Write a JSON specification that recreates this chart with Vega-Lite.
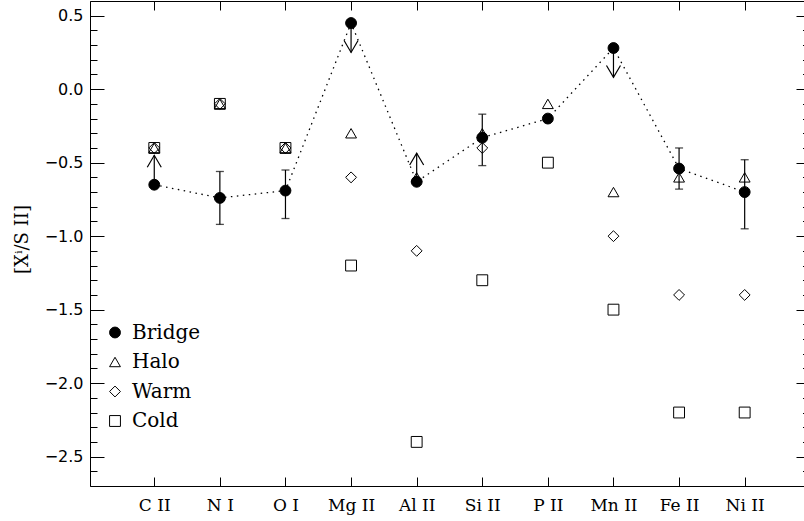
{
  "$schema": "https://vega.github.io/schema/vega-lite/v6.json",
  "width": 714,
  "height": 485,
  "autosize": {"type": "none"},
  "padding": {"left": 90, "top": 1, "right": 0, "bottom": 35},
  "background": "white",
  "datasets": {
    "pts": [
      {"el": "C II", "series": "Halo", "v": -0.4},
      {"el": "N I", "series": "Halo", "v": -0.1},
      {"el": "O I", "series": "Halo", "v": -0.4},
      {"el": "Mg II", "series": "Halo", "v": -0.3},
      {"el": "Al II", "series": "Halo", "v": -0.6},
      {"el": "Si II", "series": "Halo", "v": -0.3},
      {"el": "P II", "series": "Halo", "v": -0.1},
      {"el": "Mn II", "series": "Halo", "v": -0.7},
      {"el": "Fe II", "series": "Halo", "v": -0.6},
      {"el": "Ni II", "series": "Halo", "v": -0.6},
      {"el": "C II", "series": "Warm", "v": -0.4},
      {"el": "N I", "series": "Warm", "v": -0.1},
      {"el": "O I", "series": "Warm", "v": -0.4},
      {"el": "Mg II", "series": "Warm", "v": -0.6},
      {"el": "Al II", "series": "Warm", "v": -1.1},
      {"el": "Si II", "series": "Warm", "v": -0.4},
      {"el": "Mn II", "series": "Warm", "v": -1.0},
      {"el": "Fe II", "series": "Warm", "v": -1.4},
      {"el": "Ni II", "series": "Warm", "v": -1.4},
      {"el": "C II", "series": "Cold", "v": -0.4},
      {"el": "N I", "series": "Cold", "v": -0.1},
      {"el": "O I", "series": "Cold", "v": -0.4},
      {"el": "Mg II", "series": "Cold", "v": -1.2},
      {"el": "Al II", "series": "Cold", "v": -2.4},
      {"el": "Si II", "series": "Cold", "v": -1.3},
      {"el": "P II", "series": "Cold", "v": -0.5},
      {"el": "Mn II", "series": "Cold", "v": -1.5},
      {"el": "Fe II", "series": "Cold", "v": -2.2},
      {"el": "Ni II", "series": "Cold", "v": -2.2},
      {"el": "C II", "series": "Bridge", "v": -0.65},
      {"el": "N I", "series": "Bridge", "v": -0.74},
      {"el": "O I", "series": "Bridge", "v": -0.69},
      {"el": "Mg II", "series": "Bridge", "v": 0.45},
      {"el": "Al II", "series": "Bridge", "v": -0.63},
      {"el": "Si II", "series": "Bridge", "v": -0.33},
      {"el": "P II", "series": "Bridge", "v": -0.2},
      {"el": "Mn II", "series": "Bridge", "v": 0.28},
      {"el": "Fe II", "series": "Bridge", "v": -0.54},
      {"el": "Ni II", "series": "Bridge", "v": -0.7}
    ],
    "err": [
      {"el": "N I", "lo": -0.92, "hi": -0.56},
      {"el": "O I", "lo": -0.88, "hi": -0.55},
      {"el": "Si II", "lo": -0.52, "hi": -0.17},
      {"el": "Fe II", "lo": -0.68, "hi": -0.4},
      {"el": "Ni II", "lo": -0.95, "hi": -0.48}
    ],
    "lim": [
      {"el": "C II", "v": -0.65, "tip": -0.45, "dir": "lower"},
      {"el": "Al II", "v": -0.63, "tip": -0.435, "dir": "lower"},
      {"el": "Mg II", "v": 0.45, "tip": 0.25, "dir": "upper"},
      {"el": "Mn II", "v": 0.28, "tip": 0.08, "dir": "upper"}
    ]
  },
  "config": {
    "view": {"stroke": null},
    "axis": {"grid": false, "domainColor": "black", "tickColor": "black", "labelColor": "black", "titleColor": "black", "domainWidth": 1, "tickWidth": 1}
  },
  "resolve": {"axis": {"x": "independent", "y": "independent"}},
  "layer": [
    {
      "data": {"name": "pts"},
      "transform": [{"filter": "datum.series === 'Bridge'"}],
      "mark": {"type": "line", "color": "black", "strokeWidth": 1.3, "strokeDash": [1.5, 4.5]},
      "encoding": {
        "x": {"field": "el", "type": "ordinal", "scale": {"type": "point", "domain": ["C II", "N I", "O I", "Mg II", "Al II", "Si II", "P II", "Mn II", "Fe II", "Ni II"], "padding": 0.942, "align": 0.52},
              "axis": {"orient": "top", "labels": false, "ticks": true, "tickSize": -9, "domain": true, "title": null}},
        "y": {"field": "v", "type": "quantitative", "scale": {"domain": [-2.7, 0.6], "nice": false, "zero": false},
              "axis": {"orient": "left", "values": [-2.7, -2.6, -2.4, -2.3, -2.2, -2.1, -1.9, -1.8, -1.7, -1.6, -1.4, -1.3, -1.2, -1.1, -0.9, -0.8, -0.7, -0.6, -0.4, -0.3, -0.2, -0.1, 0.1, 0.2, 0.3, 0.4, 0.6], "tickSize": -7, "labels": false, "domain": false, "title": null}},
        "order": {"value": null}
      }
    },
    {
      "data": {"name": "err"},
      "mark": {"type": "rule", "color": "black", "strokeWidth": 1.2},
      "encoding": {
        "x": {"field": "el", "type": "ordinal", "axis": null},
        "y": {"field": "lo", "type": "quantitative",
              "axis": {"orient": "right", "values": [0.5, 0, -0.5, -1, -1.5, -2, -2.5], "tickSize": -8, "labels": false, "domain": false, "title": null}},
        "y2": {"field": "hi"}
      }
    },
    {
      "data": {"name": "err"},
      "mark": {"type": "tick", "color": "black", "size": 8, "thickness": 1.3},
      "encoding": {
        "x": {"field": "el", "type": "ordinal", "axis": null},
        "y": {"field": "lo", "type": "quantitative",
              "axis": {"orient": "right", "values": [-2.7, -2.6, -2.4, -2.3, -2.2, -2.1, -1.9, -1.8, -1.7, -1.6, -1.4, -1.3, -1.2, -1.1, -0.9, -0.8, -0.7, -0.6, -0.4, -0.3, -0.2, -0.1, 0.1, 0.2, 0.3, 0.4, 0.6], "tickSize": -1.5, "labels": false, "domain": false, "title": null}}
      }
    },
    {
      "data": {"name": "err"},
      "mark": {"type": "tick", "color": "black", "size": 8, "thickness": 1.3},
      "encoding": {
        "x": {"field": "el", "type": "ordinal", "axis": null},
        "y": {"field": "hi", "type": "quantitative", "axis": null}
      }
    },
    {
      "data": {"name": "lim"},
      "mark": {"type": "rule", "color": "black", "strokeWidth": 1.2},
      "encoding": {
        "x": {"field": "el", "type": "ordinal", "axis": null},
        "y": {"field": "v", "type": "quantitative", "axis": null},
        "y2": {"field": "tip"}
      }
    },
    {
      "data": {"name": "lim"},
      "transform": [{"filter": "datum.dir === 'lower'"}],
      "mark": {"type": "point", "shape": "M-1,1.7L0,0L1,1.7", "filled": false, "color": "black", "strokeWidth": 1.2, "size": 196, "opacity": 1},
      "encoding": {
        "x": {"field": "el", "type": "ordinal", "axis": null},
        "y": {"field": "tip", "type": "quantitative", "axis": null}
      }
    },
    {
      "data": {"name": "lim"},
      "transform": [{"filter": "datum.dir === 'upper'"}],
      "mark": {"type": "point", "shape": "M-1,-1.7L0,0L1,-1.7", "filled": false, "color": "black", "strokeWidth": 1.2, "size": 196, "opacity": 1},
      "encoding": {
        "x": {"field": "el", "type": "ordinal", "axis": null},
        "y": {"field": "tip", "type": "quantitative", "axis": null}
      }
    },
    {
      "data": {"name": "pts"},
      "mark": {"type": "point", "filled": false, "color": "black", "strokeWidth": 1, "size": 118, "opacity": 1},
      "encoding": {
        "x": {"field": "el", "type": "ordinal",
              "axis": {"orient": "bottom", "tickSize": -9, "labelPadding": 20, "labelFont": "DejaVu Serif", "labelFontSize": 17, "labelAngle": 0, "domain": true, "title": null}},
        "y": {"field": "v", "type": "quantitative",
              "axis": {"orient": "left", "values": [0.5, 0, -0.5, -1, -1.5, -2, -2.5], "format": ".1f", "tickSize": -14, "labelPadding": 21, "labelFont": "DejaVu Sans", "labelFontSize": 16, "domain": true,
                       "title": "[Xⁱ/S II]", "titleFont": "DejaVu Serif", "titleFontSize": 18, "titleFontWeight": "normal", "titleX": -68, "titleY": 238, "titleAngle": -90, "titleAlign": "center", "titleBaseline": "middle"}},
        "shape": {"field": "series", "type": "nominal",
                  "scale": {"domain": ["Bridge", "Halo", "Warm", "Cold"], "range": ["circle", "triangle-up", "diamond", "square"]},
                  "legend": {"orient": "none", "legendX": 15, "legendY": 321.5, "title": null, "labelFont": "DejaVu Serif", "labelFontSize": 20, "symbolStrokeColor": "black", "symbolStrokeWidth": 1, "rowPadding": 9.5, "labelOffset": 7, "padding": 0, "symbolSize": 118,
                             "encoding": {"symbols": {"fill": {"condition": {"test": "datum.value === 'Bridge'", "value": "black"}, "value": "transparent"}, "stroke": {"value": "black"}, "strokeWidth": {"value": 1}, "opacity": {"value": 1}}}}},
        "fill": {"condition": {"test": "datum.series === 'Bridge'", "value": "black"}, "value": "transparent"}
      }
    }
  ]
}
